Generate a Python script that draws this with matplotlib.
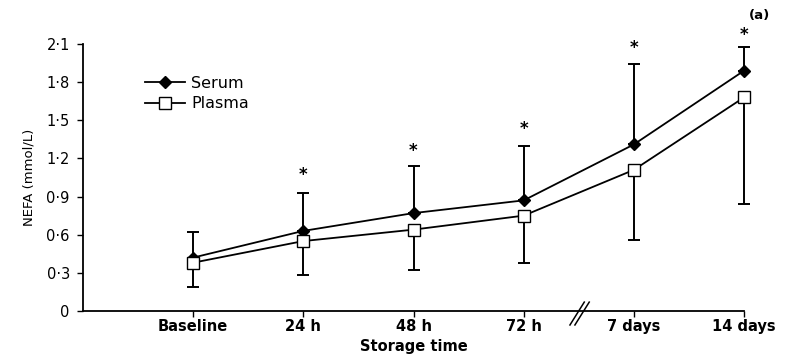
import matplotlib.pyplot as plt
import numpy as np

# storage times (categorical positions on the x axis)
time_labels = ['Baseline', '24 h', '48 h', '72 h', '7 days', '14 days']

# NEFA means (mmol/L)
serum_mean = [0.42, 0.63, 0.77, 0.87, 1.31, 1.89]
plasma_mean = [0.38, 0.55, 0.64, 0.75, 1.11, 1.68]

# error bar ends: serum upward, plasma downward
serum_upper = [0.62, 0.93, 1.14, 1.30, 1.94, 2.08]
plasma_lower = [0.19, 0.28, 0.32, 0.38, 0.56, 0.84]

# significance markers (None = no asterisk)
star_height = [None, 1.07, 1.26, 1.43, 2.07, 2.17]

y_ticks = [0, 0.3, 0.6, 0.9, 1.2, 1.5, 1.8, 2.1]
y_tick_labels = ['0', '0·3', '0·6', '0·9', '1·2', '1·5', '1·8', '2·1']

plt.rcParams['font.family'] = ['DejaVu Sans']

fig = plt.figure(figsize=(7.89, 3.58), dpi=100)
ax = fig.add_axes([0.1052, 0.1313, 0.8378, 0.7458])

x = np.arange(len(time_labels))
serum_err = np.array(serum_upper) - np.array(serum_mean)
plasma_err = np.array(plasma_mean) - np.array(plasma_lower)

# error bars
for mean, err in [(serum_mean, [np.zeros(len(x)), serum_err]),
                  (plasma_mean, [plasma_err, np.zeros(len(x))])]:
    eb = ax.errorbar(x, mean, yerr=err, fmt='none', ecolor='black',
                     elinewidth=1.4, capsize=4.5, capthick=1.4, zorder=2)
    for art in eb.lines[1] + eb.lines[2]:
        art.set_clip_on(False)

l1, = ax.plot(x, serum_mean, color='black', linewidth=1.3, marker='D', markersize=6,
              markerfacecolor='black', markeredgecolor='black', label='Serum', zorder=3)
l2, = ax.plot(x, plasma_mean, color='black', linewidth=1.3, marker='s', markersize=8,
              markerfacecolor='white', markeredgecolor='black', markeredgewidth=1.0,
              label='Plasma', zorder=4)
l1.set_clip_on(False)
l2.set_clip_on(False)

for xi, h in zip(x, star_height):
    if h is not None:
        ax.text(xi, h, '*', ha='center', va='center', fontsize=12,
                fontweight='bold', clip_on=False)

ax.set_xlim(-1, 5)
ax.set_ylim(0, 2.1)
ax.set_xticks(x)
ax.set_xticklabels(time_labels, fontsize=10.5, fontweight='bold')
ax.set_yticks(y_ticks)
ax.set_yticklabels(y_tick_labels, fontsize=10.5)
ax.tick_params(axis='both', direction='out', length=4.5, width=1.0, color='black')
ax.tick_params(axis='x', pad=1)
ax.tick_params(axis='y', pad=5)

for s in ['top', 'right']:
    ax.spines[s].set_visible(False)
for s in ['left', 'bottom']:
    ax.spines[s].set_linewidth(1.3)

ax.set_xlabel('Storage time', fontsize=10.5, fontweight='bold', labelpad=4)
ax.set_ylabel('NEFA (mmol/L)', fontsize=9.5, labelpad=8)

# axis break on the x axis between 72 h and 7 days
for off in [0.0, 0.045]:
    ax.plot([3.42 + off, 3.55 + off], [-0.11, 0.07], color='black',
            linewidth=1.1, clip_on=False, zorder=5)

leg = ax.legend(loc='upper left', bbox_to_anchor=(0.084, 0.905), frameon=False,
                fontsize=11.5, handlelength=2.5, handletextpad=0.4,
                labelspacing=0.35, borderaxespad=0)

fig.text(0.976, 0.958, '(a)', fontsize=9.5, fontweight='bold', ha='right', va='center')

fig.savefig('out.png', dpi=100)
